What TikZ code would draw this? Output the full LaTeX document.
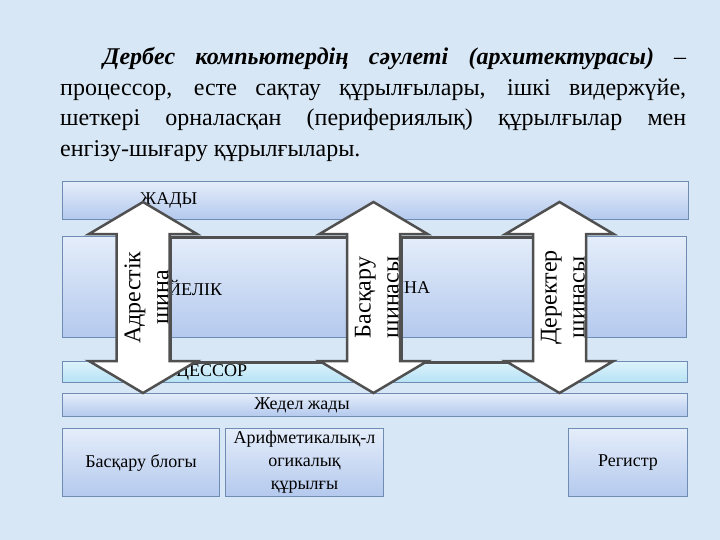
\documentclass[tikz,border=0pt]{standalone}
\usepackage{fontspec}
\setmainfont{Liberation Serif}
\usepackage{xcolor}
\usepackage{tikz}
\definecolor{pageBlue}{HTML}{D8E7F5}
\definecolor{boxTop}{HTML}{E4EDFA}
\definecolor{boxBottom}{HTML}{B4C9EE}
\definecolor{boxEdge}{HTML}{6F8DB4}
\definecolor{stripTop}{HTML}{DDF3FC}
\definecolor{stripBottom}{HTML}{B6E2F4}
\definecolor{busGray}{HTML}{505050}
\tikzset{
  bar/.style={draw=boxEdge, line width=1pt, top color=boxTop, bottom color=boxBottom, inner sep=0pt, anchor=north west},
  lbl/.style={font=\fontsize{18}{23}\selectfont, inner sep=0pt, align=center},
  gapbox/.style={draw=busGray, line width=2.5pt, inner sep=0pt, anchor=north west},
  bustext/.style={font=\fontsize{24}{28}\selectfont, inner sep=0pt, align=center, rotate=90},
  busarrow/.pic={
    \draw[draw=busGray, fill=white, line width=2.5pt]
      (0,-95.5) -- (54,-63.5) -- (26.5,-63.5) -- (26.5,63.5) -- (54,63.5) -- (0,95.5)
      -- (-54,63.5) -- (-26.5,63.5) -- (-26.5,-63.5) -- (-54,-63.5) -- cycle;
  }
}
\begin{document}
\begin{tikzpicture}[x=1pt, y=-1pt]
  \fill[pageBlue] (0,0) rectangle (720,540);
  % opening paragraph
  \node[anchor=base west, text width=626pt, align=justify, inner sep=0pt, font=\fontsize{24}{30.5}\selectfont] (intro) at (60,65)
    {\hspace*{43pt}\textbf{\textit{Дербес компьютердің сәулеті (архитектурасы)}} –\linebreak
     процессор, есте сақтау құрылғылары, ішкі видержүйе,\linebreak
     шеткері орналасқан (перифериялық) құрылғылар мен\linebreak
     енгізу-шығару құрылғылары.};
  % bars and boxes
  \node[bar, minimum width=626pt, minimum height=38pt] (memory) at (62,181) {};
  \node[bar, minimum width=624pt, minimum height=101pt] (storage) at (62,236) {};
  \node[bar, minimum width=625pt, minimum height=21pt, top color=stripTop, bottom color=stripBottom] (cpu) at (62,361) {};
  \node[bar, minimum width=625pt, minimum height=23pt] (ram) at (62,393) {};
  \node[bar, minimum width=157pt, minimum height=68pt] (control) at (62,428) {};
  \node[bar, minimum width=158pt, minimum height=68pt] (alu) at (225,428) {};
  \node[bar, minimum width=119pt, minimum height=68pt] (register) at (568,428) {};
  \node[lbl, anchor=west] (memtext) at (140,200) {ЖАДЫ};
  \node[lbl, anchor=west] (storetext) at (168,288) {ЙЕЛІК};
  \node[lbl, anchor=west] (storetext2) at (398,288) {ІНА};
  \node[lbl, anchor=west] (cputext) at (176,372) {ЦЕССОР};
  \node[lbl] (ramtext) at (302,405) {Жедел жады};
  \node[lbl] (controltext) at (control.center) {Басқару блогы};
  \node[lbl] (alutext) at (alu.center) {Арифметикалық-л\\огикалық\\құрылғы};
  \node[lbl] (registertext) at (register.center) {Регистр};
  % gaps between the buses
  \node[gapbox, minimum width=177.5pt, minimum height=125pt] (gapA) at (169.5,236) {};
  \node[gapbox, minimum width=133pt, minimum height=125pt] (gapB) at (400,236) {};
  % buses
  \pic (addrbus) at (143,297.5) {busarrow};
  \pic (ctrlbus) at (373.5,297.5) {busarrow};
  \pic (databus) at (559.5,297.5) {busarrow};
  \node[bustext] (addrtext) at (146.5,297.5) {Адрестік\\шина};
  \node[bustext] (ctrltext) at (377,297.5) {Басқару\\шинасы};
  \node[bustext] (datatext) at (563,297.5) {Деректер\\шинасы};
\end{tikzpicture}
\end{document}
